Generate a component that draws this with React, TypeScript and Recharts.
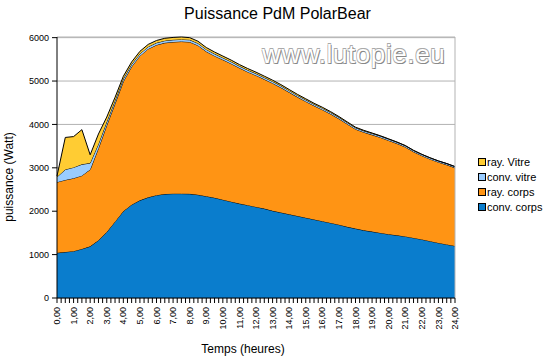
import {
  AreaChart,
  Area,
  XAxis,
  YAxis,
  CartesianGrid,
  ReferenceLine,
} from "recharts";

const hours = [
  0, 0.5, 1, 1.5, 2, 2.5, 3, 3.5, 4, 4.5, 5, 5.5, 6, 6.5, 7, 7.5, 8, 8.5, 9, 9.5,
  10, 10.5, 11, 11.5, 12, 12.5, 13, 13.5, 14, 14.5, 15, 15.5, 16, 16.5, 17, 17.5,
  18, 18.5, 19, 19.5, 20, 20.5, 21, 21.5, 22, 22.5, 23, 23.5, 24,
];

const convCorps = [
  1040, 1060, 1080, 1130, 1190, 1330, 1520, 1760, 2000, 2150, 2250, 2320, 2370,
  2395, 2405, 2405, 2400, 2380, 2345, 2310, 2265, 2220, 2175, 2140, 2100, 2060,
  2010, 1970, 1930, 1890, 1850, 1810, 1770, 1730, 1690, 1640, 1600, 1560, 1530,
  1500, 1470, 1445, 1420, 1385, 1350, 1310, 1270, 1235, 1200,
];

const rayCorps = [
  1630, 1660, 1680, 1690, 1770, 2120, 2460, 2720, 2990, 3180, 3330, 3420, 3460,
  3485, 3495, 3505, 3500, 3440, 3335, 3270, 3225, 3180, 3125, 3070, 3030, 2980,
  2940, 2880, 2810, 2740, 2680, 2620, 2570, 2510, 2440, 2370, 2290, 2260, 2230,
  2200, 2160, 2115, 2060, 1985, 1930, 1890, 1860, 1835, 1800,
];

const convVitre = [
  120, 240, 250, 260, 150, 100, 80, 70, 60, 55, 50, 50, 50, 50, 50, 50, 50, 50,
  48, 47, 46, 45, 44, 43, 42, 41, 40, 40, 39, 38, 37, 36, 35, 35, 34, 33, 33, 32,
  32, 31, 31, 30, 30, 30, 29, 29, 28, 28, 28,
];

const rayVitre = [
  20, 740, 710, 800, 190, 230, 110, 75, 60, 55, 55, 55, 55, 55, 55, 55, 50, 48,
  45, 42, 40, 38, 36, 35, 33, 32, 30, 28, 26, 25, 24, 22, 21, 20, 18, 16, 14, 12,
  10, 8, 6, 5, 4, 3, 2, 2, 1, 1, 0,
];

const yTicks = [0, 1000, 2000, 3000, 4000, 5000, 6000];
// one tick per quarter hour, labels only on the full hours
const xTicks = Array.from({ length: 97 }, (_, i) => i / 4);

const series = [
  { key: "convCorps", name: "conv. corps", color: "#0A7DCD" },
  { key: "rayCorps", name: "ray. corps", color: "#FF9414" },
  { key: "convVitre", name: "conv. vitre", color: "#99CCFF" },
  { key: "rayVitre", name: "ray. Vitre", color: "#FFCC33" },
];

const data = hours.map((h, i) => ({
  hour: h,
  convCorps: convCorps[i],
  rayCorps: rayCorps[i],
  convVitre: convVitre[i],
  rayVitre: rayVitre[i],
}));

function HourTick(props: any) {
  const { x, y, payload } = props;
  const v = payload.value;
  if (!Number.isInteger(v)) return null;
  return (
    <text
      x={x}
      y={y}
      transform={`rotate(-90, ${x}, ${y})`}
      textAnchor="end"
      dy="0.35em"
      fontSize={9}
      fill="#000"
    >
      {v.toFixed(2).replace(".", ",")}
    </text>
  );
}

export default function App() {
  return (
    <div
      style={{
        position: "absolute",
        left: 0,
        top: 0,
        width: 545,
        height: 357,
        background: "#fff",
        fontFamily: "'Liberation Sans', Arial, sans-serif",
      }}
    >
      <AreaChart
        width={545}
        height={357}
        data={data}
        margin={{ top: 37, right: 90, bottom: 19, left: 12 }}
      >
        <CartesianGrid vertical={false} stroke="#b3b3b3" />
        <ReferenceLine x={24} stroke="#b3b3b3" />
        <XAxis
          dataKey="hour"
          type="number"
          domain={[0, 24]}
          ticks={xTicks}
          interval={0}
          height={40}
          tickSize={5}
          tickMargin={4}
          stroke="#000"
          tick={HourTick}
        />
        <YAxis
          domain={[0, 6000]}
          ticks={yTicks}
          width={45}
          tickSize={5}
          tickMargin={3}
          stroke="#000"
          tick={{ fontSize: 9, fill: "#000" }}
        />
        {series.map((s) => (
          <Area
            key={s.key}
            type="linear"
            dataKey={s.key}
            name={s.name}
            stackId="p"
            stroke="#000"
            strokeWidth={1}
            fill={s.color}
            fillOpacity={1}
            isAnimationActive={false}
          />
        ))}
      </AreaChart>

      <div
        style={{
          position: "absolute",
          left: 0,
          width: 555,
          top: 5,
          textAlign: "center",
          fontSize: 16,
          color: "#000",
        }}
      >
        Puissance PdM PolarBear
      </div>

      <div
        style={{
          position: "absolute",
          left: 262,
          top: 39,
          fontSize: 26,
          letterSpacing: 0.6,
          color: "#fff",
          textShadow:
            "1px 1px 0 #888, -0.6px -0.6px 0 #aaa, 0.6px -0.6px 0 #aaa, -0.6px 0.6px 0 #aaa",
        }}
      >
        www.lutopie.eu
      </div>

      <div
        style={{
          position: "absolute",
          left: 0,
          width: 486,
          top: 342,
          textAlign: "center",
          fontSize: 12,
          color: "#000",
        }}
      >
        Temps (heures)
      </div>

      <div
        style={{
          position: "absolute",
          left: 9,
          top: 177,
          fontSize: 12,
          color: "#000",
          whiteSpace: "nowrap",
          transform: "translate(-50%, -50%) rotate(-90deg)",
        }}
      >
        puissance (Watt)
      </div>

      <div style={{ position: "absolute", left: 478, top: 154 }}>
        {[...series].reverse().map((s) => (
          <div
            key={s.key}
            style={{
              display: "flex",
              alignItems: "center",
              height: 15,
              fontSize: 11,
              color: "#000",
            }}
          >
            <span
              style={{
                display: "inline-block",
                width: 6,
                height: 6,
                background: s.color,
                border: "1px solid #000",
                marginRight: 1,
              }}
            />
            {s.name}
          </div>
        ))}
      </div>
    </div>
  );
}
